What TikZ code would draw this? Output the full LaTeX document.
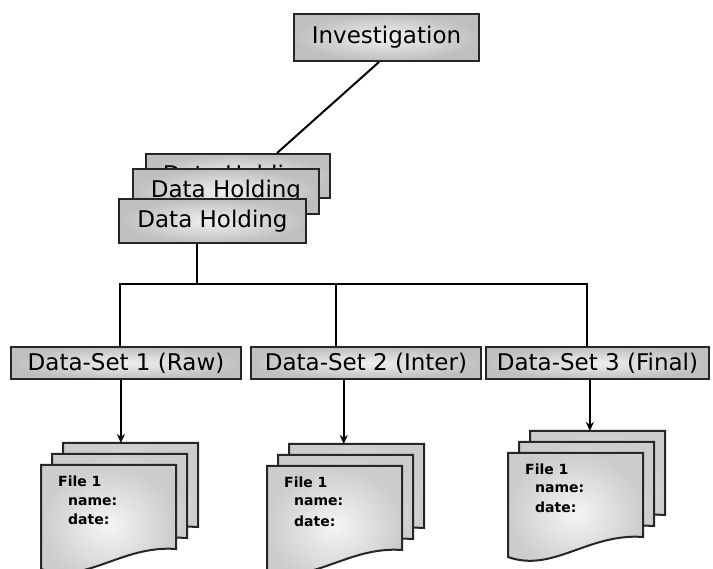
\documentclass[tikz,border=0pt]{standalone}
\usepackage{fontspec}
\newfontfamily\dvs{DejaVu Sans}
\usetikzlibrary{calc,arrows.meta}
\tikzset{
 box/.style={draw=black!85, line width=2pt, inner sep=0pt, anchor=north west,
   inner color=gray!12, outer color=gray!50, font=\dvs\fontsize{23}{26}\selectfont, text=black},
 conn/.style={draw=black, line width=2pt},
 arr/.style={conn, -{Stealth[length=9pt,width=8pt]}},
 sheet/.style={draw=black!85, line width=2pt, inner color=gray!8, outer color=gray!40},
 ftext/.style={anchor=base west, font=\dvs\bfseries\fontsize{14}{16}\selectfont, inner sep=0pt}
}
\newcommand\filestack[3]{%
 \begin{scope}[shift={(#2,#3)}]
  \draw[sheet] (22,-22) -- (157,-22) -- (157,62) .. controls (102,58) and (67,98) .. (22,82) -- cycle;
  \draw[sheet] (11,-11) -- (146,-11) -- (146,73) .. controls (91,69) and (56,109) .. (11,93) -- cycle;
  \draw[sheet] (0,0) -- (135,0) -- (135,84) .. controls (80,80) and (45,120) .. (0,104) -- cycle;
  \coordinate (#1top) at (22,-22);
  \node[ftext] (#1title) at (17,22) {File 1};
  \node[ftext] (#1name) at (27,40) {name:};
  \node[ftext] (#1date) at (27,60) {date:};
 \end{scope}}
\begin{document}
\begin{tikzpicture}[x=1pt,y=-1pt]
\fill[white] (0,0) rectangle (713,569);
\useasboundingbox (0,0) rectangle (713,569);

\node[box, minimum width=185pt, minimum height=47pt] (inv) at (293,13) {Investigation};
\node[box, minimum width=184pt, minimum height=44pt] (dh3) at (145,153) {Data Holding};
\node[box, minimum width=186pt, minimum height=45pt] (dh2) at (132,168) {Data Holding};
\node[box, minimum width=187pt, minimum height=44pt] (dh1) at (118,198) {Data Holding};

\draw[conn] ($(inv.south west)!0.46!(inv.south east)$) -- ($(dh3.north west)!0.71!(dh3.north east)$);

\node[box, minimum width=230pt, minimum height=32pt] (ds1) at (10,346) {Data-Set 1 (Raw)};
\node[box, minimum width=230pt, minimum height=32pt] (ds2) at (250,346) {Data-Set 2 (Inter)};
\node[box, minimum width=223pt, minimum height=32pt] (ds3) at (485,346) {Data-Set 3 (Final)};

\coordinate (busy) at (0,284);
\coordinate (dhout) at ($(dh1.south west)!0.42!(dh1.south east)$);
\coordinate (ds1in) at ($(ds1.north west)!0.475!(ds1.north east)$);
\coordinate (ds2in) at ($(ds2.north west)!0.37!(ds2.north east)$);
\coordinate (ds3in) at ($(ds3.north west)!0.453!(ds3.north east)$);
\draw[conn] (dhout) -- (dhout |- busy);
\draw[conn] (ds1in) -- (ds1in |- busy) -- (ds3in |- busy) -- (ds3in);
\draw[conn] (ds2in |- busy) -- (ds2in);

\filestack{fa}{41}{465}
\filestack{fb}{267}{466}
\filestack{fc}{508}{453}

\coordinate (ds1out) at ($(ds1.south west)!0.478!(ds1.south east)$);
\coordinate (ds2out) at ($(ds2.south west)!0.404!(ds2.south east)$);
\coordinate (ds3out) at ($(ds3.south west)!0.466!(ds3.south east)$);
\draw[arr] (ds1out) -- (ds1out |- fatop);
\draw[arr] (ds2out) -- (ds2out |- fbtop);
\draw[arr] (ds3out) -- (ds3out |- fctop);
\end{tikzpicture}
\end{document}
